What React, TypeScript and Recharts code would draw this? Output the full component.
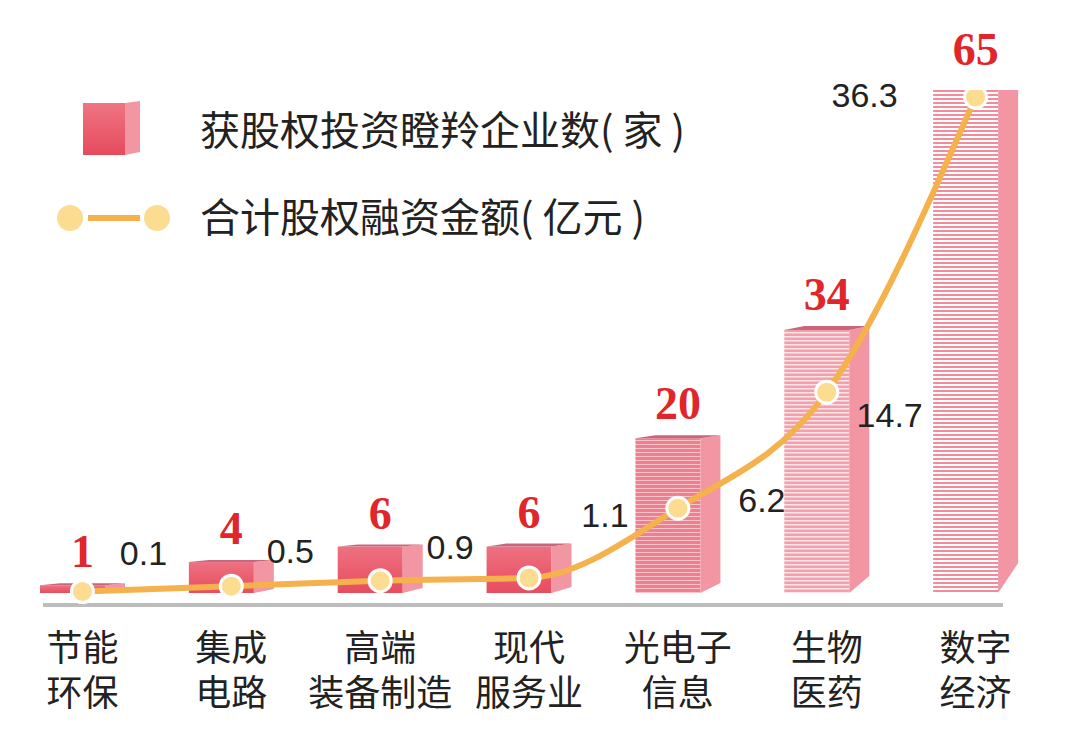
import React from "react";
import {
  ComposedChart,
  Bar,
  Line,
  XAxis,
  YAxis,
  LabelList,
  ReferenceLine,
  Legend,
} from "recharts";

// 各产业：获股权投资瞪羚企业数（家）与合计股权融资金额（亿元）
const categories = ["节能\n环保", "集成\n电路", "高端\n装备制造", "现代\n服务业", "光电子\n信息", "生物\n医药", "数字\n经济"];
const companyCounts = [1, 4, 6, 6, 20, 34, 65];
const financingAmounts = [0.1, 0.5, 0.9, 1.1, 6.2, 14.7, 36.3];

const data = categories.map((name, i) => ({
  name,
  companies: companyCounts[i],
  amount: financingAmounts[i],
}));

const CJK = '"Noto Sans CJK SC", "Noto Sans", sans-serif';
const LINE_COLOR = "#f5b14b";
const DOT_FILL = "#fcdc90";
const SIDE_FILL = "#f296a3";
const TOP_FILL = "#c8667b";

// look of each 3D bar (by position)
const FRONT_FILLS = [
  "url(#faceSolid)",
  "url(#faceSolid)",
  "url(#faceSolid)",
  "url(#faceSolid)",
  "url(#stripeA)",
  "url(#stripeB)",
  "url(#stripeC)",
];
const TOP_RISE = [2, 2, 2, 3, 3, 4, 9];
const SIDE_CUT = [3, 4, 5, 6, 10, 17, 30];
const SIDE_DEPTH = 20;

// hand placed offsets of the amount labels, relative to each point
const AMOUNT_LABEL_OFFSET: [number, number][] = [
  [61, -39],
  [59, -35],
  [70, -34],
  [76, -63],
  [84, -8],
  [63, 23],
  [-111, -2],
];

function Bar3D(props: any) {
  const { x, y, width, height, index } = props;
  const fw = width - SIDE_DEPTH;
  const bottom = y + height;
  const rise = TOP_RISE[index];
  const cut = Math.min(SIDE_CUT[index], height + rise - 1);
  return (
    <g>
      <rect x={x} y={y} width={fw} height={height} fill={FRONT_FILLS[index]} />
      <polygon
        points={`${x + fw},${y} ${x + width},${y - rise} ${x + width},${bottom - cut} ${x + fw},${bottom}`}
        fill={SIDE_FILL}
      />
      <polygon
        points={`${x},${y} ${x + SIDE_DEPTH},${y - rise} ${x + width},${y - rise} ${x + fw},${y}`}
        fill={TOP_FILL}
      />
    </g>
  );
}

function CountLabel(props: any) {
  const { x, y, width, value, index } = props;
  return (
    <text
      x={x + width / 2}
      y={y - 16 - TOP_RISE[index]}
      textAnchor="middle"
      fill="#e0262b"
      fontSize={46}
      fontWeight="bold"
      fontFamily='"Liberation Serif", "DejaVu Serif", serif'
    >
      {value}
    </text>
  );
}

function AmountLabel(props: any) {
  const { x, y, value, index } = props;
  const [dx, dy] = AMOUNT_LABEL_OFFSET[index];
  return (
    <text
      x={x + dx}
      y={y + dy}
      textAnchor="middle"
      dominantBaseline="central"
      fill="#222"
      fontSize={34}
      fontFamily='"Liberation Sans", Arial, sans-serif'
    >
      {value}
    </text>
  );
}

function AmountDot(props: any) {
  const { cx, cy, index } = props;
  return <circle key={index} cx={cx} cy={cy} r={11} fill={DOT_FILL} stroke="#fff" strokeWidth={3} />;
}

function CategoryTick(props: any) {
  const { x, y, payload } = props;
  const lines = String(payload.value).split("\n");
  return (
    <g>
      {lines.map((t, i) => (
        <text
          key={i}
          x={x}
          y={y + 54 + i * 45}
          textAnchor="middle"
          fill="#222"
          fontSize={36}
          fontFamily={CJK}
        >
          {t}
        </text>
      ))}
    </g>
  );
}

function Baseline(props: any) {
  const { x1, x2, y1 } = props;
  return <line x1={x1 + 35} x2={x2 - 47} y1={y1} y2={y1} stroke="#bdbdbd" strokeWidth={4} />;
}

function LegendBox() {
  return (
    <svg width={720} height={180} style={{ display: "block" }}>
      <defs>
        <linearGradient id="legendFace" x1="0" y1="0" x2="0" y2="1">
          <stop offset="0%" stopColor="#ef7483" />
          <stop offset="100%" stopColor="#e64b5d" />
        </linearGradient>
      </defs>
      <rect x={35} y={15} width={42} height={52} fill="url(#legendFace)" />
      <polygon points="77,15 92,13 92,64 77,67" fill={SIDE_FILL} />
      <text x={152} y={40} dominantBaseline="central" fontSize={40} fill="#222" fontFamily={CJK}>
        获股权投资瞪羚企业数( 家 )
      </text>
      <line x1={40} x2={92} y1={130} y2={130} stroke={LINE_COLOR} strokeWidth={6} />
      <circle cx={22} cy={130} r={13} fill={DOT_FILL} />
      <circle cx={109} cy={130} r={13} fill={DOT_FILL} />
      <text x={152} y={127} dominantBaseline="central" fontSize={40} fill="#222" fontFamily={CJK}>
        合计股权融资金额( 亿元 )
      </text>
    </svg>
  );
}

export default function App() {
  return (
    <div style={{ width: 1064, height: 727, background: "#fff", fontFamily: CJK }}>
      <ComposedChart
        width={1064}
        height={727}
        data={data}
        margin={{ top: 82, right: 22, left: 0, bottom: 12 }}
      >
        <defs>
          <linearGradient id="faceSolid" x1="0" y1="0" x2="0" y2="1">
            <stop offset="0%" stopColor="#ee7181" />
            <stop offset="100%" stopColor="#e64d5f" />
          </linearGradient>
          <pattern id="stripeA" width={8} height={4} patternUnits="userSpaceOnUse">
            <rect width={8} height={4} fill="#ee7f8f" />
            <rect width={8} height={1} fill="#f9c3cb" />
          </pattern>
          <pattern id="stripeB" width={8} height={4} patternUnits="userSpaceOnUse">
            <rect width={8} height={4} fill="#f3a0ac" />
            <rect width={8} height={1.5} fill="#fde4e8" />
          </pattern>
          <pattern id="stripeC" width={8} height={4} patternUnits="userSpaceOnUse">
            <rect width={8} height={4} fill="#f28b9b" />
            <rect width={8} height={2} fill="#fff" />
          </pattern>
        </defs>
        <XAxis
          dataKey="name"
          interval={0}
          axisLine={false}
          tickLine={false}
          tickSize={0}
          height={118}
          tick={<CategoryTick />}
        />
        <YAxis yAxisId="count" hide domain={[-1.55, 65]} allowDataOverflow />
        <YAxis yAxisId="amount" hide domain={[-0.88, 36.82]} allowDataOverflow />
        <Legend
          layout="horizontal"
          verticalAlign="middle"
          content={<LegendBox />}
          wrapperStyle={{ top: 80, left: 40, width: 720, height: 180 }}
        />
        <ReferenceLine yAxisId="count" y={-1.55} shape={<Baseline />} />
        <Bar
          yAxisId="count"
          dataKey="companies"
          barSize={85}
          shape={<Bar3D />}
          isAnimationActive={false}
        >
          <LabelList dataKey="companies" content={<CountLabel />} />
        </Bar>
        <Line
          yAxisId="amount"
          dataKey="amount"
          stroke="none"
          dot={<AmountDot />}
          activeDot={false}
          legendType="none"
          isAnimationActive={false}
        />
        <Line
          yAxisId="amount"
          type="monotone"
          dataKey="amount"
          stroke={LINE_COLOR}
          strokeWidth={6}
          dot={false}
          activeDot={false}
          isAnimationActive={false}
        >
          <LabelList dataKey="amount" content={<AmountLabel />} />
        </Line>
      </ComposedChart>
    </div>
  );
}
